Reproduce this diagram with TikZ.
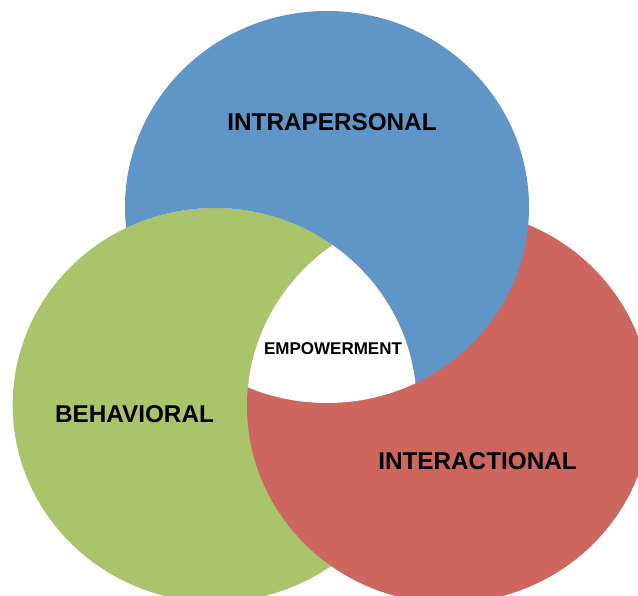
\documentclass[tikz,border=0pt]{standalone}
\usepackage{fontspec}
\setmainfont{Liberation Sans}
\definecolor{cblue}{RGB}{96,149,199}
\definecolor{cgreen}{RGB}{170,196,108}
\definecolor{cred}{RGB}{204,102,94}
\begin{document}
\begin{tikzpicture}[x=1pt,y=-1pt,
  lbl/.style={font=\fontsize{24.3}{24.3}\selectfont\bfseries, inner sep=0pt, anchor=base},
  slbl/.style={font=\fontsize{17}{17}\selectfont\bfseries, inner sep=0pt, anchor=base}]
\useasboundingbox (0,0) rectangle (638,596);
\def\blueshape{(327,207) ellipse [x radius=202pt, y radius=196pt]}
\def\greenshape{(214.7,405) ellipse [x radius=202pt, y radius=197pt]}
\def\redshape{(449,406) ellipse [x radius=202pt, y radius=197pt]}
\fill[cgreen] \greenshape;
\fill[cred] \redshape;
\begin{scope}[even odd rule]
  \clip (-100,-100) rectangle (800,800) \greenshape;
  \fill[cblue] \blueshape;
\end{scope}
\begin{scope}
  \clip \greenshape;
  \clip \redshape;
  \fill[white] \blueshape;
\end{scope}
\node[lbl] (intra) at (332,130.5) {INTRAPERSONAL};
\node[lbl] (behav) at (134.5,422) {BEHAVIORAL};
\node[lbl] (inter) at (477.5,469.5) {INTERACTIONAL};
\node[slbl] (empow) at (333,354.5) {EMPOWERMENT};
\end{tikzpicture}
\end{document}
